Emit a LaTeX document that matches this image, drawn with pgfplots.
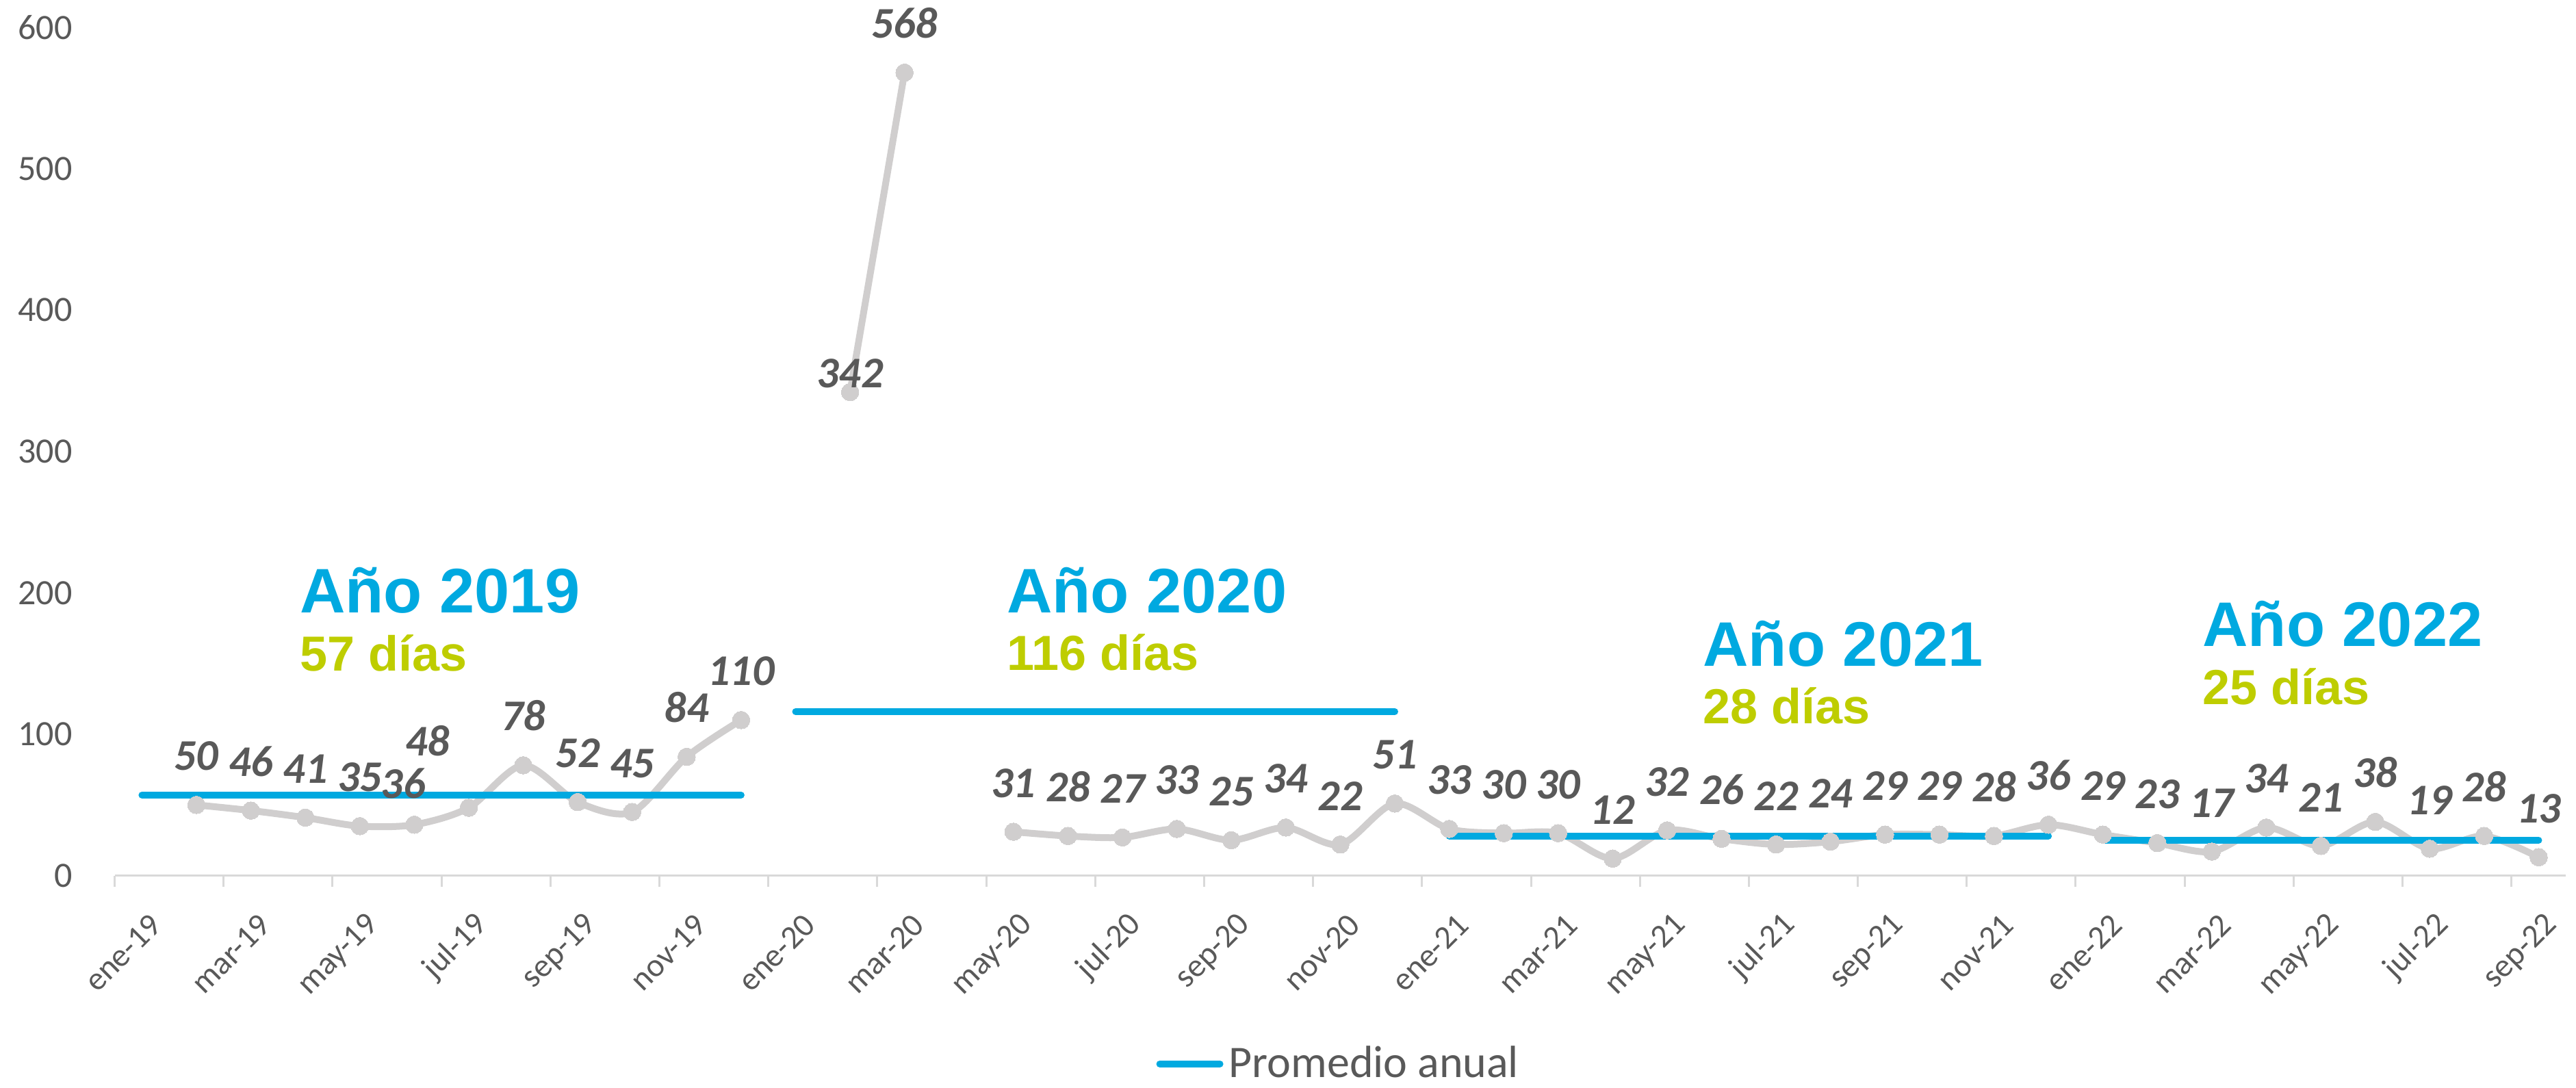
\documentclass[border=0pt]{standalone}
\usepackage{pgfplots}
\pgfplotsset{compat=1.18}
\usepackage{pgfplotstable}
\usepackage{fontspec}
\setmainfont{Carlito}
\newfontfamily\arialf{Liberation Sans}
\definecolor{avgblue}{RGB}{0,169,224}
\definecolor{diasgreen}{RGB}{190,205,0}
\definecolor{linegrey}{RGB}{208,206,206}
\definecolor{labgrey}{RGB}{89,89,89}
\definecolor{axgrey}{RGB}{217,217,217}

\pgfplotstableread{
x y dx dy lbl
1.5 50 0 12.5 50
2.5 46 0 12.5 46
3.5 41 0 12.5 41
4.5 35 0 12.5 35
5.5 36 -4 9.5 36
6.5 48 -15 18.75 48
7.5 78 0 12.5 78
8.5 52 0 12.5 52
9.5 45 0 12.5 45
10.5 84 0 12.5 84
11.5 110 0 12.5 110
12.5 nan 0 12.5 x
13.5 342 0 1.5 342
14.5 568 0 12.5 568
15.5 nan 0 12.5 x
16.5 31 0 12.5 31
17.5 28 0 12.5 28
18.5 27 0 12.5 27
19.5 33 0 12.5 33
20.5 25 0 12.5 25
21.5 34 0 12.5 34
22.5 22 0 12.5 22
23.5 51 0 12.5 51
24.5 33 0 12.5 33
25.5 30 0 12.5 30
26.5 30 0 12.5 30
27.5 12 0 12.5 12
28.5 32 0 12.5 32
29.5 26 0 12.5 26
30.5 22 0 12.5 22
31.5 24 0 12.5 24
32.5 29 0 12.5 29
33.5 29 0 12.5 29
34.5 28 0 12.5 28
35.5 36 0 12.5 36
36.5 29 0 12.5 29
37.5 23 0 12.5 23
38.5 17 0 12.5 17
39.5 34 0 12.5 34
40.5 21 0 12.5 21
41.5 38 0 12.5 38
42.5 19 0 12.5 19
43.5 28 0 12.5 28
44.5 13 0 12.5 13
}\datatab

\pgfplotstableread{
x y
0.5 57
11.5 57
12 nan
12.5 116
23.5 116
24 nan
24.5 28
35.5 28
36 nan
36.5 25
44.5 25
}\avgtab

\begin{document}
\begin{tikzpicture}
\begin{axis}[
  at={(0,0)}, anchor=south west,
  scale only axis, width=895.4pt, height=309.9pt,
  xmin=0, xmax=45, ymin=0, ymax=600,
  axis x line*=bottom, axis y line*=left,
  x axis line style={draw=axgrey, line width=0.75pt},
  y axis line style={draw=none},
  xtick={0,2,...,44},
  xticklabels={ene-19,mar-19,may-19,jul-19,sep-19,nov-19,ene-20,mar-20,may-20,jul-20,sep-20,nov-20,ene-21,mar-21,may-21,jul-21,sep-21,nov-21,ene-22,mar-22,may-22,jul-22,sep-22},
  ytick={0,100,...,600},
  tick align=outside, major tick length=4pt,
  xtick style={draw=axgrey, line width=0.75pt},
  ytick style={draw=none},
  yticklabel style={font=\fontsize{13}{15}\selectfont, text=labgrey, xshift=-8pt},
  /pgf/number format/assume math mode=true,
  xticklabel style={font=\fontsize{12}{14}\selectfont, text=labgrey,
    xshift=17.5pt, yshift=-9.75pt, rotate=45, anchor=east},
  unbounded coords=jump,
  clip=false,
  legend style={at={(0.5,-0.222)}, anchor=center, draw=none, fill=none,
    font=\fontsize{16.5}{19}\selectfont, text=labgrey, legend cell align=left},
  legend image code/.code={\draw[#1] (0pt,0pt) -- (22pt,0pt);},
]
\addplot[linegrey, line width=2.5pt, smooth, mark=*, mark size=3.2pt,
  mark options={fill=linegrey, draw=linegrey, line width=0pt}, forget plot,
  nodes near coords, point meta=explicit symbolic,
  visualization depends on={\thisrow{dx} \as \lbldx},
  visualization depends on={\thisrow{dy} \as \lbldy},
  every node near coord/.append style={anchor=south, inner sep=0pt,
    xshift=\lbldx pt, yshift=\lbldy pt,
    font=\fontsize{16}{19}\selectfont\bfseries\itshape, text=labgrey},
] table[x=x, y=y, meta=lbl] {\datatab};

\addplot[avgblue, line width=2.5pt, line cap=round] table[x=x, y=y] {\avgtab};
\addlegendentry{Promedio anual}

\node[anchor=base west, inner sep=0pt, font=\arialf\bfseries\fontsize{23}{27}\selectfont, text=avgblue] at (axis cs:3.39,186) {Año 2019};
\node[anchor=base west, inner sep=0pt, font=\arialf\bfseries\fontsize{18}{21}\selectfont, text=diasgreen] at (axis cs:3.39,145) {57 días};
\node[anchor=base west, inner sep=0pt, font=\arialf\bfseries\fontsize{23}{27}\selectfont, text=avgblue] at (axis cs:16.37,186) {Año 2020};
\node[anchor=base west, inner sep=0pt, font=\arialf\bfseries\fontsize{18}{21}\selectfont, text=diasgreen] at (axis cs:16.37,145.4) {116 días};
\node[anchor=base west, inner sep=0pt, font=\arialf\bfseries\fontsize{23}{27}\selectfont, text=avgblue] at (axis cs:29.15,148) {Año 2021};
\node[anchor=base west, inner sep=0pt, font=\arialf\bfseries\fontsize{18}{21}\selectfont, text=diasgreen] at (axis cs:29.15,107.6) {28 días};
\node[anchor=base west, inner sep=0pt, font=\arialf\bfseries\fontsize{23}{27}\selectfont, text=avgblue] at (axis cs:38.32,162) {Año 2022};
\node[anchor=base west, inner sep=0pt, font=\arialf\bfseries\fontsize{18}{21}\selectfont, text=diasgreen] at (axis cs:38.32,121) {25 días};
\end{axis}
\pgfresetboundingbox
\path (-41.9pt,-77.6pt) rectangle (899.1pt,319.9pt);
\end{tikzpicture}
\end{document}
